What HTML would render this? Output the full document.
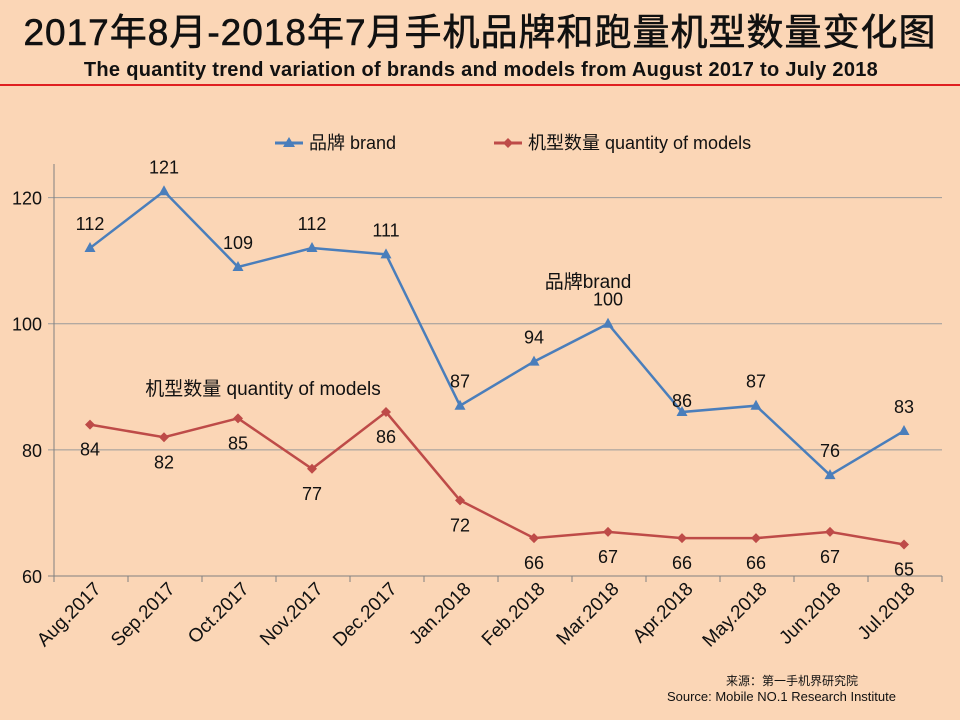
<!DOCTYPE html>
<html><head><meta charset="utf-8"><style>
body{margin:0;background:#fbd6b6;}
svg{display:block;font-family:"Liberation Sans","Noto Sans CJK SC",sans-serif;}
</style></head><body>
<svg width="960" height="720" id="c">
<rect width="960" height="720" fill="#fbd6b6"/>
<text x="480" y="45" text-anchor="middle" font-size="37" letter-spacing="1" fill="#111" stroke="#111" stroke-width="0.6">2017年8月-2018年7月手机品牌和跑量机型数量变化图</text>
<text x="481" y="76" text-anchor="middle" font-size="20" letter-spacing="0.3" font-weight="bold" fill="#111">The quantity trend variation of brands and models from  August 2017 to July 2018</text>
<line x1="0" y1="85" x2="960" y2="85" stroke="#e02020" stroke-width="2"/>
<g>
<g><line x1="275" y1="143" x2="303" y2="143" stroke="#4a7ebb" stroke-width="3"/><path d="M289,137 L295,147 L283,147Z" fill="#4a7ebb"/><text x="309" y="149" font-size="18" fill="#111">品牌 brand</text></g>
<g><line x1="494" y1="143" x2="522" y2="143" stroke="#be4b48" stroke-width="3"/><path d="M508,138 L513,143 L508,148 L503,143Z" fill="#be4b48"/><text x="528" y="149" font-size="18" fill="#111">机型数量 quantity of models</text></g>
</g>
<g id="grid"></g><g id="axes"></g><g id="series"></g>
<text x="588" y="288" text-anchor="middle" font-size="19" fill="#111">品牌brand</text>
<text x="263" y="395" text-anchor="middle" font-size="19" fill="#111">机型数量 quantity of models</text>
<text x="858" y="685" text-anchor="end" font-size="12" fill="#111">来源：第一手机界研究院</text>
<text x="896" y="701" text-anchor="end" font-size="13" fill="#111">Source: Mobile NO.1 Research Institute</text>
</svg>
<script>
const categories=["Aug.2017","Sep.2017","Oct.2017","Nov.2017","Dec.2017","Jan.2018","Feb.2018","Mar.2018","Apr.2018","May.2018","Jun.2018","Jul.2018"];
const brand=[112,121,109,112,111,87,94,100,86,87,76,83];
const models=[84,82,85,77,86,72,66,67,66,66,67,65];
const yTicks=[60,80,100,120];
const NS="http://www.w3.org/2000/svg";
const L=54,R=942,yMin=60,yMax=128.5,Y0=576,Y1=144;
const step=(R-L)/categories.length;
const xs=i=>L+step*(i+0.5)-1;
const ys=v=>Y0-(v-yMin)*(Y0-Y1)/(yMax-yMin);
function mk(t,a,p){const e=document.createElementNS(NS,t);for(const k in a)e.setAttribute(k,a[k]);p.appendChild(e);return e;}
const grid=document.getElementById('grid'),axes=document.getElementById('axes'),ser=document.getElementById('series');
yTicks.forEach(v=>{
 const g=mk('line',{x1:L-6,x2:R,y1:ys(v),y2:ys(v),stroke:v===60?'#808080':'#9a9a9a','stroke-width':1},grid);
 
 
 const t=mk('text',{x:L-12,y:ys(v)+7,'text-anchor':'end','font-size':18,fill:'#111'},axes);t.textContent=v;
 
 
});
const ya=mk('line',{x1:L,x2:L,y1:ys(yMax)+20,y2:Y0+6,stroke:'#808080'},axes);


for(let i=0;i<=categories.length;i++){const tk=mk('line',{x1:L+step*i,x2:L+step*i,y1:Y0,y2:Y0+6,stroke:'#808080'},axes);
 
 }
categories.forEach((c,i)=>{
 const x=xs(i)+12,y=Y0+14;
 const t=mk('text',{x:x,y:y,'text-anchor':'end','font-size':19,fill:'#111',transform:`rotate(-45 ${x} ${y})`},axes);t.textContent=c;
 
 
});
function draw(data,color,name,shape,labOff){
 const p=mk('polyline',{points:data.map((v,i)=>xs(i)+','+ys(v)).join(' '),fill:'none',stroke:color,'stroke-width':2.5},ser);
 
 
 data.forEach((v,i)=>{
  const x=xs(i),y=ys(v);
  const m=shape==='tri'?mk('path',{d:`M${x},${y-6}L${x+5.5},${y+4}L${x-5.5},${y+4}Z`,fill:color},ser):mk('path',{d:`M${x},${y-5}L${x+5},${y}L${x},${y+5}L${x-5},${y}Z`,fill:color},ser);
  
  
  const t=mk('text',{x:x,y:y+labOff(i),'text-anchor':'middle','font-size':18,fill:'#111'},ser);t.textContent=v;
  
  
 });
}
draw(brand,'#4a7ebb','brand','tri',i=>(i===8?-5:-18));
draw(models,'#be4b48','models','dia',i=>31);
</script>
</body></html>
